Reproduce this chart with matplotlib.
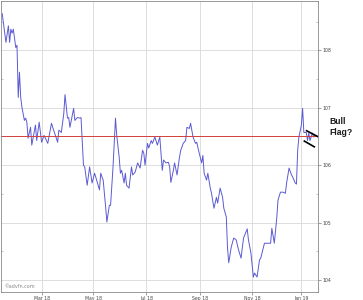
import pandas as pd
import matplotlib
matplotlib.use("Agg")
import matplotlib.pyplot as plt
from matplotlib.ticker import MultipleLocator

# NYSE closures in the window
holidays = ["2018-01-15", "2018-02-19", "2018-03-30", "2018-05-28", "2018-07-04",
            "2018-09-03", "2018-11-22", "2018-12-05", "2018-12-25", "2019-01-01"]

# trading-session number (from 12 Jan 2018) and close
session = [0, 3, 5, 6, 7, 8, 9, 11, 12, 13, 14, 15, 16, 18, 19, 20, 21, 23, 24, 27,
           28, 30, 32, 34, 37, 40, 41, 45, 46, 48, 50, 51, 53, 54, 55, 58, 59, 61, 63,
           64, 66, 67, 69, 71, 73, 75, 76, 79, 80, 82, 84, 85, 87, 88, 90, 92, 93, 95,
           96, 97, 99, 100, 101, 103, 105, 106, 108, 110, 112, 114, 115, 116, 118, 119,
           121, 122, 124, 126,
           128, 130, 131, 133, 135, 136, 137, 139, 140, 142, 144, 145, 147, 149, 150,
           152, 153, 155, 157, 158, 160, 162, 163, 164, 166, 167, 169, 170, 172, 174,
           175, 177, 179, 180, 182, 183, 184, 186, 188, 190,
           192, 194, 196, 199, 200, 202, 204, 205, 207, 209, 210, 213, 214, 218, 219,
           221, 223, 224, 226, 228, 230, 231, 233, 235, 236, 238, 239, 240, 241, 243,
           244, 245, 247, 248, 249, 250, 252, 253, 254]
price = [108.64, 108.14, 108.43, 108.14, 108.37, 108.30, 108.37, 108.05, 108.09, 107.18,
         107.62, 107.18, 107.01, 106.78, 106.82, 106.75, 106.47, 106.66, 106.35, 106.70,
         106.43, 106.75, 106.40, 106.52, 106.38, 106.73, 106.66, 106.40, 106.61, 106.57,
         106.90, 107.23, 106.82, 106.83, 106.66, 106.99, 106.78, 106.83, 106.82,
         106.83, 106.00, 105.97, 105.65, 105.97, 105.69, 105.86, 105.79, 105.57, 105.86,
         105.74, 105.27, 105.01, 105.30, 105.30, 105.97, 106.82, 106.52, 106.14, 105.86,
         105.91, 105.69, 105.86, 105.65, 105.60, 105.97, 105.83, 105.88, 106.04, 105.95,
         106.26, 106.21, 106.00, 106.38, 106.30, 106.43, 106.38, 106.49, 106.35,
         106.49, 105.91, 106.09, 106.04, 106.05, 105.97, 105.70, 105.91, 106.04, 105.83,
         106.14, 106.26, 106.38, 106.43, 106.66, 106.64, 106.73, 106.49, 106.38, 106.40,
         106.21, 106.04, 106.17, 105.86, 105.74, 105.86, 105.60, 105.51, 105.25, 105.44,
         105.34, 105.60, 105.44, 105.25, 105.10, 104.56, 104.30, 104.57, 104.73, 104.70,
         104.52, 104.38, 104.73, 104.89, 104.70, 104.47, 104.05, 104.12, 104.05, 104.35,
         104.38, 104.64, 104.64, 104.64, 104.90, 104.64, 105.08, 105.39, 105.53, 105.53,
         105.51, 105.69, 105.95, 105.83, 105.79, 105.69, 105.67, 106.26, 106.49, 106.70,
         106.99, 106.57, 106.57, 106.43, 106.56, 106.43, 106.56, 106.49, 106.52]

resistance = 106.5
tick_months = ["2018-03", "2018-05", "2018-07", "2018-09", "2018-11", "2019-01"]
tick_labels = ["Mar 18", "May 18", "Jul 18", "Sep 18", "Nov 18", "Jan 19"]
y_ticks = [104, 105, 106, 107, 108]

# flag channel drawn on the chart (session, price)
flag_upper = ([247.2, 256.2], [106.60, 106.50])
flag_lower = ([245.4, 253.5], [106.42, 106.32])

days = pd.bdate_range("2018-01-12", "2019-02-28", freq="C", holidays=holidays)
first_of_month = [int((days >= pd.Timestamp(m + "-01")).argmax()) for m in tick_months]

fig = plt.figure(figsize=(3.63, 3.00), dpi=100)
ax = fig.add_axes([1 / 363, 8 / 300, 317 / 363, 291.5 / 300])

ax.plot(session, price, color="#5a5ad2", lw=0.7)
ax.axhline(resistance, color="#d04040", lw=0.7)
ax.plot(*flag_upper, color="black", lw=1.2, clip_on=False)
ax.plot(*flag_lower, color="black", lw=1.2, clip_on=False)

ax.set_xlim(-1, 256.5)
ax.set_ylim(103.79, 108.87)
ax.set_xticks(first_of_month)
ax.set_xticklabels(tick_labels)
ax.set_yticks(y_ticks)
ax.yaxis.set_minor_locator(MultipleLocator(0.5))
ax.yaxis.tick_right()
ax.grid(True, color="#d8d8d8", lw=0.6)
ax.tick_params(axis="both", which="major", labelsize=3.3, length=2, width=0.5,
               colors="#777777", labelcolor="#444444", pad=1)
ax.tick_params(axis="y", which="minor", left=True, right=True, direction="in",
               length=1.5, width=0.4, colors="#999999")
for s in ax.spines.values():
    s.set_color("#888888")
    s.set_linewidth(0.6)

ax.text(0.012, 0.012, "\u00a9advfn.com", transform=ax.transAxes, fontsize=3.5,
        color="#888888", va="bottom", ha="left")
fig.text(329 / 363, 1 - 127 / 300, "Bull\nFlag?", fontsize=6.2, fontweight="bold",
         family="Liberation Sans", color="#1a1a1a", va="center", ha="left",
         linespacing=1.35)

fig.savefig("out.png", dpi=100)
